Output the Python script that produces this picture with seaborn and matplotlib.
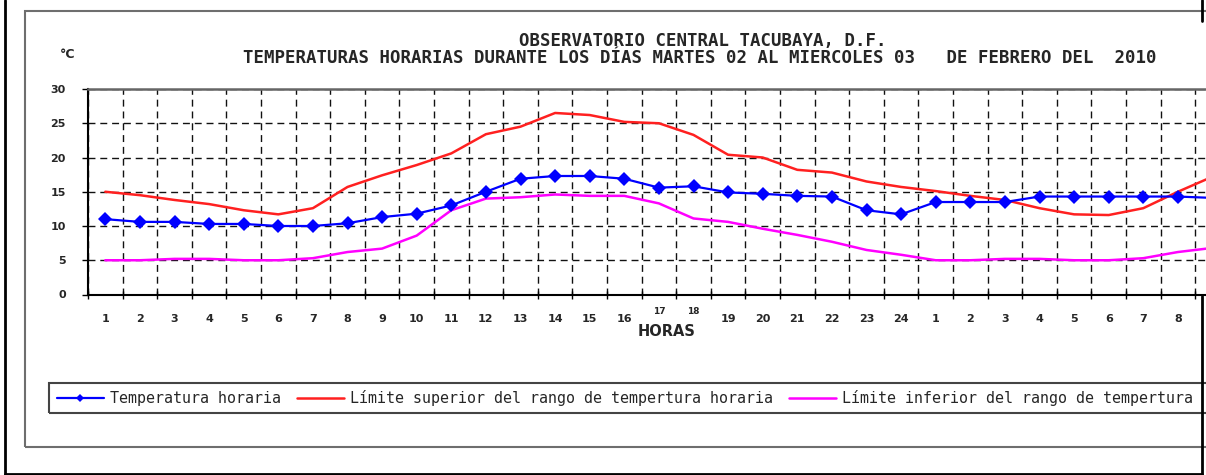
import numpy as np
import pandas as pd
import matplotlib
matplotlib.use("Agg")
import matplotlib.pyplot as plt
from matplotlib.lines import Line2D
from matplotlib.patches import Rectangle
from matplotlib.transforms import ScaledTranslation
import seaborn as sns

# datos (martes 02 - miercoles 03 feb 2010)
horas = list(range(1, 34))
# la ultima categoria queda cortada en el borde derecho, sin etiqueta visible
etiquetas = [str(h) for h in range(1, 25)] + [str(h) for h in range(1, 9)] + [""]

temp_horaria = [11.0, 10.6, 10.6, 10.3, 10.3, 10.0, 10.0, 10.4, 11.3, 11.8,
                13.0, 15.0, 16.9, 17.3, 17.3, 16.9, 15.6, 15.8, 14.9, 14.7,
                14.4, 14.3, 12.3, 11.7, 13.5, 13.5, 13.5, 14.3, 14.3, 14.3,
                14.3, 14.3, 14.1]
lim_superior = [15.0, 14.5, 13.8, 13.2, 12.3, 11.7, 12.6, 15.7, 17.4, 18.9,
                20.6, 23.4, 24.5, 26.5, 26.2, 25.2, 25.0, 23.3, 20.4, 20.0,
                18.2, 17.8, 16.5, 15.7, 15.1, 14.4, 13.8, 12.6, 11.7, 11.6,
                12.6, 15.0, 17.2]
lim_inferior = [5.0, 5.0, 5.2, 5.2, 5.0, 5.0, 5.3, 6.2, 6.7, 8.6,
                12.3, 14.0, 14.2, 14.6, 14.4, 14.4, 13.3, 11.1, 10.6, 9.6,
                8.7, 7.7, 6.5, 5.8, 5.0, 5.0, 5.2, 5.2, 5.0, 5.0,
                5.3, 6.2, 6.8]

lbl_temp = "Temperatura horaria"
lbl_sup = "Límite superior del rango de tempertura horaria"
lbl_inf = "Límite inferior del rango de tempertura"

df = pd.DataFrame({"hora": horas, lbl_temp: temp_horaria,
                   lbl_sup: lim_superior, lbl_inf: lim_inferior})

sns.set_style("white")
plt.rcParams["font.family"] = ["DejaVu Sans"]

W, H = 1206, 475
fig = plt.figure(figsize=(W / 100, H / 100), dpi=100)
fig.patch.set_facecolor("white")

# el area de trazado continua mas alla del borde derecho (imagen recortada)
ax = fig.add_axes([88 / W, 1 - 294.5 / H, 33 * 34.6 / W, (294.5 - 89) / H])

sns.lineplot(data=df, x="hora", y=lbl_temp, color="#0000ff", lw=1.6,
             marker="D", markersize=7.5, markeredgewidth=0, label=lbl_temp,
             zorder=5, ax=ax)
sns.lineplot(data=df, x="hora", y=lbl_sup, color="#ff2020", lw=1.8,
             label=lbl_sup, zorder=3, ax=ax)
sns.lineplot(data=df, x="hora", y=lbl_inf, color="#ff00ff", lw=1.8,
             label=lbl_inf, zorder=3, ax=ax)
handles, labels = ax.get_legend_handles_labels()
ax.get_legend().remove()

ax.set_xlim(0.5, 33.5)
ax.set_ylim(0, 30)
ax.set_xlabel("")
ax.set_ylabel("")

# ticks: limites de categoria (mayores) y etiquetas al centro (menores)
ax.set_xticks(np.arange(0.5, 34, 1))
ax.set_xticklabels([])
ax.set_xticks(horas, minor=True)
ax.set_xticklabels(etiquetas, minor=True, fontsize=8, fontweight="bold")
ax.tick_params(axis="x", which="major", direction="inout", length=6,
               width=1, color="black", bottom=True)
ax.tick_params(axis="x", which="minor", length=0, pad=14, bottom=True)
ax.set_yticks(range(0, 31, 5))
ax.set_yticklabels([str(v) for v in range(0, 31, 5)], fontsize=8,
                   fontweight="bold")
ax.tick_params(axis="y", direction="out", length=4, width=1, color="black",
               pad=12, left=True)

ax.grid(True, which="major", color="#111111", lw=1.0, ls=(0, (5, 3.5)))
ax.set_axisbelow(True)

for s in ["left", "bottom"]:
    ax.spines[s].set_color("black")
    ax.spines[s].set_linewidth(1.5)
ax.spines["top"].set_color("#666666")
ax.spines["top"].set_linewidth(1.8)
ax.spines["right"].set_visible(False)

# etiquetas 17 y 18 algo mas arriba y mas chicas, como en el original
for lab in ax.xaxis.get_minorticklabels()[16:18]:
    lab.set_fontsize(6.5)
    lab.set_transform(lab.get_transform() +
                      ScaledTranslation(0, 5 / 72, fig.dpi_scale_trans))

# textos
fig.text(703 / W, 1 - 41 / H, "OBSERVATORIO CENTRAL TACUBAYA, D.F.",
         ha="center", va="center", family="DejaVu Sans Mono", fontsize=12.5,
         fontweight="bold")
fig.text(700 / W, 1 - 58 / H,
         "TEMPERATURAS HORARIAS DURANTE LOS DÍAS MARTES 02 AL MIERCOLES 03   DE FEBRERO DEL  2010",
         ha="center", va="center", family="DejaVu Sans Mono", fontsize=12.5,
         fontweight="bold")
fig.text(68 / W, 1 - 54 / H, "°C", ha="center", va="center",
         fontsize=9, fontweight="bold")
fig.text(667 / W, 1 - 332 / H, "HORAS", ha="center", va="center",
         fontsize=10.5, fontweight="bold")

# leyenda sin marco propio; el recuadro sigue mas alla del borde derecho
leg = fig.legend(handles, labels, loc="center left", ncol=3,
                 bbox_to_anchor=(51 / W, 1 - 398 / H), borderaxespad=0,
                 frameon=False,
                 prop={"family": "DejaVu Sans Mono", "size": 10.8},
                 handlelength=3.1, handletextpad=0.45, columnspacing=1.05,
                 markerscale=0.6, borderpad=0.4)
fig.add_artist(Rectangle((49 / W, 1 - 413 / H), 1.2, 30 / H,
                         transform=fig.transFigure, fill=False,
                         ec="#444444", lw=1.5))

# marcos
fig.add_artist(Rectangle((25 / W, 1 - 447 / H), 1.2, (447 - 11) / H,
                         transform=fig.transFigure, fill=False,
                         ec="#6e6e6e", lw=1.5, zorder=0))
fig.add_artist(Line2D([5 / W, 5 / W], [1 - 474 / H, 1], color="black",
                      lw=2, transform=fig.transFigure))
fig.add_artist(Line2D([5 / W, 1202 / W], [1 - 474 / H, 1 - 474 / H],
                      color="black", lw=2, transform=fig.transFigure))
fig.add_artist(Line2D([1202 / W, 1202 / W], [1 - 21 / H, 1], color="black",
                      lw=2, transform=fig.transFigure))
fig.add_artist(Line2D([1202 / W, 1202 / W], [1 - 474 / H, 1 - 296 / H],
                      color="black", lw=2, transform=fig.transFigure))

fig.savefig("out.png", dpi=100)
